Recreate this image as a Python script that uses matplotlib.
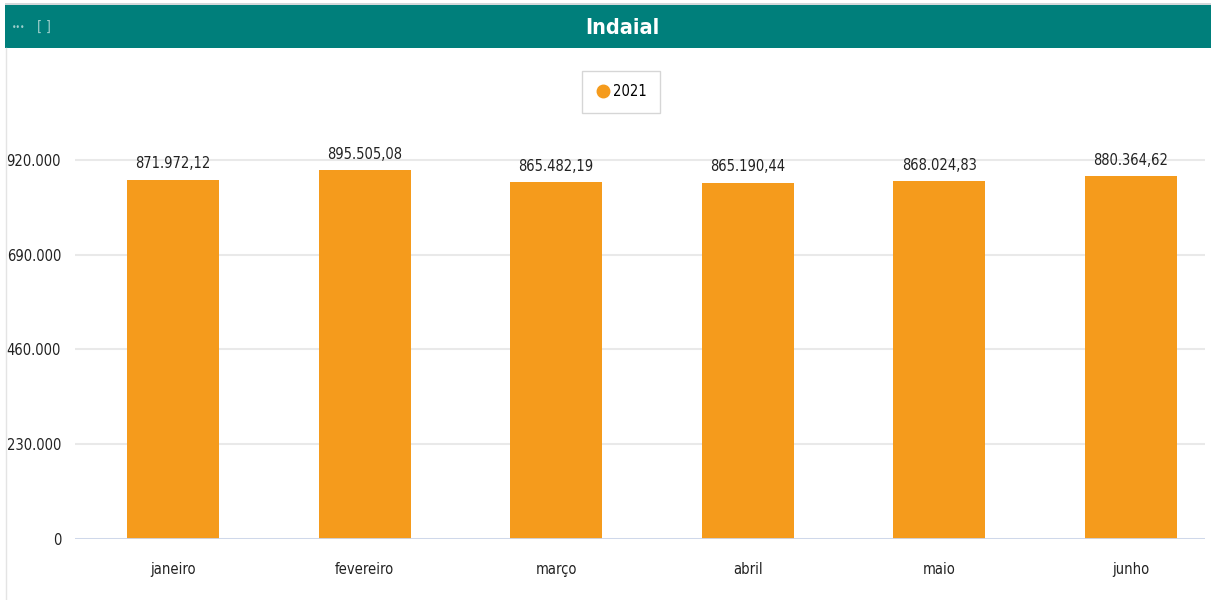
import matplotlib
matplotlib.use("Agg")
import matplotlib.pyplot as plt
from matplotlib.patches import Rectangle
from matplotlib.ticker import FuncFormatter

# dados
meses = ["janeiro", "fevereiro", "março", "abril", "maio", "junho"]
valores_2021 = [871972.12, 895505.08, 865482.19, 865190.44, 868024.83, 880364.62]
ticks_y = [0, 230000, 460000, 690000, 920000]
serie = "2021"

plt.rcParams['font.family'] = ['DejaVu Sans']
plt.rcParams['font.stretch'] = 'condensed'

W, H = 1211, 600
fig = plt.figure(figsize=(W / 100, H / 100), dpi=100)
fig.patch.set_facecolor("white")


def fmt_br(v, dec=0):
    s = f"{v:,.{dec}f}"
    return s.replace(",", "X").replace(".", ",").replace("X", ".")


# faixa do título
fig.patches.append(Rectangle((5 / W, 1 - 48 / H), 1, 43 / H, transform=fig.transFigure,
                             facecolor="#007F7B", edgecolor="none", zorder=0))
fig.patches.append(Rectangle((5 / W, 1 - 5 / H), 1, 2 / H, transform=fig.transFigure,
                             facecolor="#d4d8da", edgecolor="none", zorder=0))
fig.lines.append(plt.Line2D([6 / W, 6 / W], [0, 1 - 48 / H], transform=fig.transFigure,
                            color="#e4e4e4", lw=1))
fig.text(622 / W, 1 - 28 / H, "Indaial", color="white", fontsize=15.5, fontweight="bold",
         ha="center", va="center")
fig.text(12 / W, 1 - 28 / H, "•••", color="#9fcfcc", fontsize=6, ha="left", va="center")
fig.text(44 / W, 1 - 27 / H, "[ ]", color="#9fcfcc", fontsize=10, ha="center", va="center")

# eixos
left, right, top, bottom = 75, 1205, 130, 539
ax = fig.add_axes([left / W, 1 - bottom / H, (right - left) / W, (bottom - top) / H])
x = list(range(len(meses)))
bars = ax.bar(x, valores_2021, width=0.48, color="#F59B1C", zorder=3, label=serie)

ax.set_xlim(-0.511, 5.386)
ax.set_ylim(0, 992800)
ax.set_yticks(ticks_y)
ax.yaxis.set_major_formatter(FuncFormatter(lambda v, p: fmt_br(v)))
ax.set_xticks(x)
ax.set_xticklabels(meses)
ax.grid(axis="y", color="#e9e9e9", lw=1.5, zorder=0)
ax.axhline(0, color="#ccd6eb", lw=2, zorder=4)
for s in ax.spines.values():
    s.set_visible(False)
ax.tick_params(length=0, labelsize=10.5, colors="#222222")
ax.tick_params(axis="x", pad=16.5)
ax.tick_params(axis="y", pad=10)

for xi, v in zip(x, valores_2021):
    ax.annotate(fmt_br(v, 2), (xi, v), xytext=(0, 6), textcoords="offset points",
                ha="center", va="bottom", fontsize=10.5, color="#222222")

leg = ax.legend(loc="center", bbox_to_anchor=(621 / W, 1 - 92 / H), bbox_transform=fig.transFigure,
                handles=[plt.Line2D([], [], marker="o", ls="", color="#F59B1C", markersize=9)],
                labels=[serie], fontsize=10.5, frameon=True, fancybox=False,
                handletextpad=0.2, borderpad=0.95, handlelength=1.0)
leg.get_frame().set_edgecolor("#cccccc")
leg.get_frame().set_linewidth(1)

fig.savefig("out.png", dpi=100)
